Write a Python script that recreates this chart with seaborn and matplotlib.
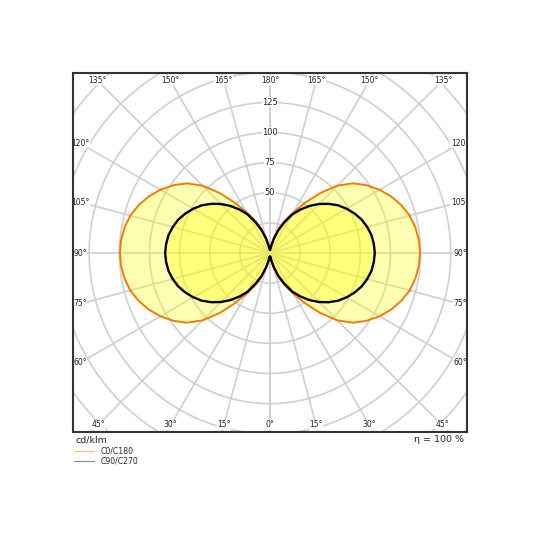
import numpy as np
import matplotlib
matplotlib.use('Agg')
import matplotlib.pyplot as plt
from matplotlib.lines import Line2D
from matplotlib.patches import Circle
import seaborn as sns

# luminous intensity (cd/klm) per gamma angle, one half-plane each
gamma = list(range(0, 181, 5))
c0_c180 = [4, 3, 7, 13.5, 22, 30, 39, 51, 65, 79, 90, 98, 105, 111, 116, 120, 122.5, 124, 124.5,
           124, 122.5, 120, 116, 111, 105, 98, 90, 79, 65, 51, 39, 30, 22, 13.5, 7, 3, 2.5]
c90_c270 = [4, 3, 6, 12, 20, 28, 37, 44, 51, 57.5, 63.5, 69, 73.5, 77.5, 81, 83.5, 85.5, 86.5, 87,
            86.5, 85.5, 83.5, 81, 77.5, 73.5, 69, 63.5, 57.5, 51, 44, 37, 28, 20, 12, 6, 3, 2.5]
planes = ['C0/C180', 'C90/C270']

ring_values = [25, 50, 75, 100, 125, 150, 175, 200, 225]
ring_labels = [50, 75, 100, 125]
angle_ticks = list(range(0, 181, 15))
unit_text = 'cd/klm'
eta_text = 'η = 100 %'

sns.set_style('white')
plt.rcParams['font.family'] = ['DejaVu Sans']

fig = plt.figure(figsize=(5.4, 5.4), dpi=100)
ax = fig.add_axes([0.1346, 0.1994, 0.7307, 0.6659])
x_lim = 163.7
y_top, y_bot = 149.6, 148.8
ax.set_xlim(-x_lim, x_lim)
ax.set_ylim(-y_bot, y_top)


def lobe_xy(values):
    g = np.radians(gamma)
    v = np.array(values, dtype=float)
    x = np.concatenate([-v * np.sin(g), (v * np.sin(g))[::-1]])
    y = np.concatenate([-v * np.cos(g), (-v * np.cos(g))[::-1]])
    return x, y


grid_col = '#d0d0d0'
for r in ring_values:
    ax.add_patch(Circle((0, 0), r, fill=False, ec=grid_col, lw=1.2, zorder=1))
for g in angle_ticks:
    rad = np.radians(g)
    for side in (-1, 1):
        ax.plot([0, side * 300 * np.sin(rad)], [0, -300 * np.cos(rad)],
                color=grid_col, lw=1.2, zorder=1)

x0, y0 = lobe_xy(c0_c180)
x9, y9 = lobe_xy(c90_c270)
ax.fill(x0, y0, color='#ffff00', alpha=0.3, lw=0, zorder=2)
ax.fill(x9, y9, color='#ffff00', alpha=0.3, lw=0, zorder=2)
sns.lineplot(x=x0, y=y0, sort=False, estimator=None, color='#f07d00', lw=1.4, ax=ax, zorder=3)
sns.lineplot(x=x9, y=y9, sort=False, estimator=None, color='black', lw=1.7, ax=ax, zorder=4)

inset = 6.1
box = dict(fc='white', ec='none', pad=0.4)
for g in angle_ticks:
    rad = np.radians(g)
    sides = (1,) if g in (0, 180) else (-1, 1)
    for side in sides:
        dx, dy = side * np.sin(rad), -np.cos(rad)
        ts = []
        if abs(dx) > 1e-9:
            ts.append((x_lim - inset) / abs(dx))
        if abs(dy) > 1e-9:
            ts.append(((y_top if dy > 0 else y_bot) - inset) / abs(dy))
        t = min(ts)
        ax.text(t * dx, t * dy, f'{g}°', ha='center', va='center', fontsize=5.5,
                color='#222222', bbox=box, clip_on=True, zorder=5)

for r in ring_labels:
    ax.text(0, r, str(r), ha='center', va='center', fontsize=6, color='#222222',
            bbox=box, zorder=5)

ax.set_xticks([])
ax.set_yticks([])
for s in ax.spines.values():
    s.set_color('#333333')
    s.set_linewidth(1.5)
    s.set_zorder(6)

fig.text(76 / 540, 1 - 440 / 540, unit_text, fontsize=6.8, ha='left', va='center')
fig.text(464 / 540, 1 - 440 / 540, eta_text, fontsize=6.8, ha='right', va='center')

handles = [Line2D([], [], color='#f7c07a', lw=0.8), Line2D([], [], color='#8c8c8c', lw=0.8)]
fig.legend(handles, planes, loc='upper left', bbox_to_anchor=(74 / 540, 1 - 447 / 540),
           frameon=False, fontsize=5.6, handlelength=2.6, handletextpad=0.8,
           labelspacing=0.1, borderpad=0, borderaxespad=0)

fig.savefig('out.png', dpi=100)
